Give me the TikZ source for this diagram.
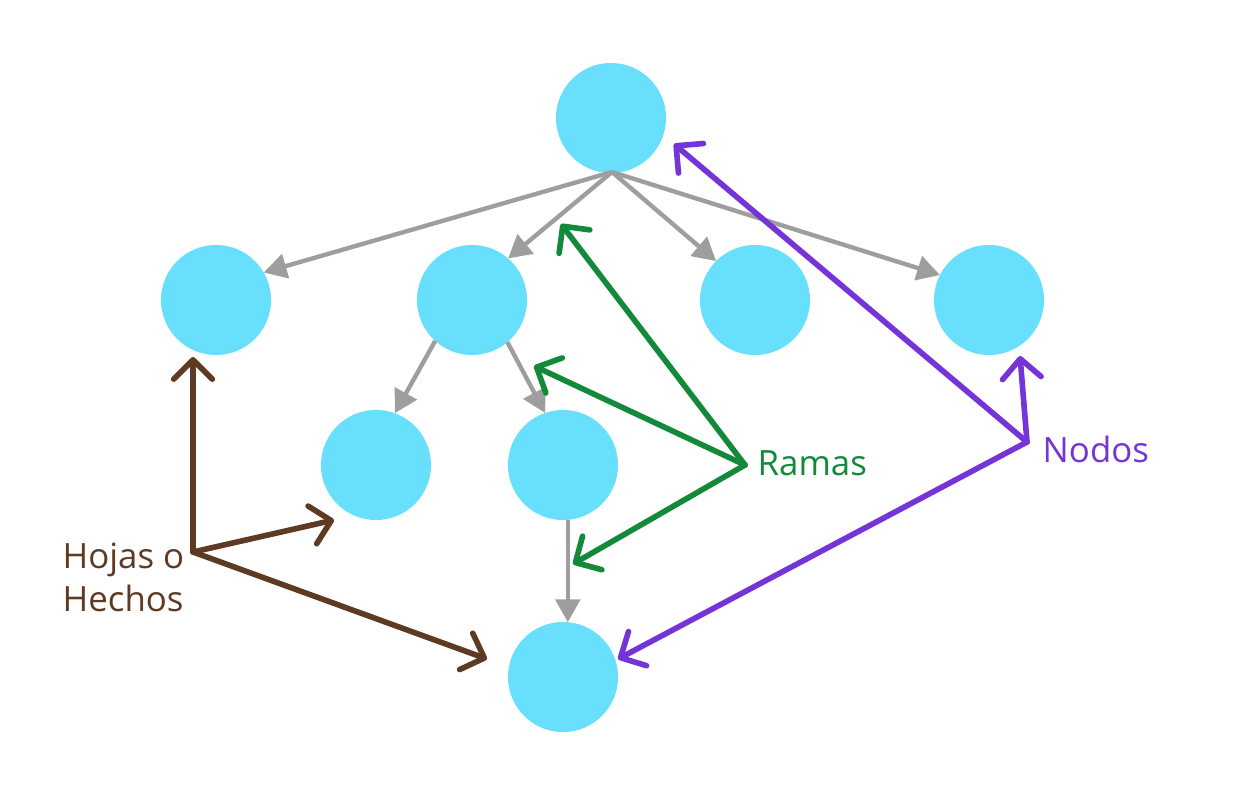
\documentclass[tikz,border=0pt]{standalone}
\usepackage{fontspec}
\setmainfont{Open Sans}
\usetikzlibrary{arrows.meta}
\definecolor{nodecyan}{HTML}{68DFFC}
\definecolor{edgegray}{HTML}{9E9E9E}
\definecolor{brownc}{HTML}{5E3A22}
\definecolor{greenc}{HTML}{138A3A}
\definecolor{purplec}{HTML}{7434D8}
\tikzset{
  treenode/.style={circle,fill=nodecyan,minimum size=1.1cm,inner sep=0pt,outer sep=0pt},
  edge/.style={draw=edgegray,line width=1.25pt,-{Triangle[length=6.5pt,width=7pt]}},
  note/.style={line width=1.6pt,line cap=round,line join=round,-{Straight Barb[length=5.5pt,width=11pt,line cap=round,line join=round]}},
  label/.style={anchor=base west,font=\fontsize{9.9pt}{12pt}\selectfont,inner sep=0pt}
}
\begin{document}
\begin{tikzpicture}[x=0.01cm,y=-0.01cm]
\useasboundingbox (0,0) rectangle (1237,785);
% nodes
\node[treenode] (A) at (611,118) {};
\node[treenode] (L) at (216,300) {};
\node[treenode] (B) at (472,300) {};
\node[treenode] (C) at (755,300) {};
\node[treenode] (D) at (989,300) {};
\node[treenode] (E) at (376,465) {};
\node[treenode] (F) at (563,465) {};
\node[treenode] (G) at (563,677) {};
% gray edges
\coordinate (a0) at (612,172);
\draw[edge] (a0) -- (L.30);
\draw[edge] (a0) -- (B.49);
\draw[edge] (a0) -- (C.135);
\draw[edge] (a0) -- (D.153);
\draw[edge] (B.228) -- (E.70);
\draw[edge] (B.310) -- (F.109);
\draw[edge] (F.275) -- (G.85);
% brown
\coordinate (h) at (193,552);
\coordinate (h1) at (193,357);
\coordinate (h2) at (334,520);
\coordinate (h3) at (487,659);
\draw[note,brownc] (h) -- (h1);
\draw[note,brownc] (h) -- (h2);
\draw[note,brownc] (h) -- (h3);
\node[label,text=brownc] (hl1) at (62,568) {Hojas o};
\node[label,text=brownc] (hl2) at (62,611) {Hechos};
% green
\coordinate (r) at (745,465);
\coordinate (r1) at (561,224);
\coordinate (r2) at (534,366);
\coordinate (r3) at (573,564);
\draw[note,greenc] (r) -- (r1);
\draw[note,greenc] (r) -- (r2);
\draw[note,greenc] (r) -- (r3);
\node[label,text=greenc] (rl) at (757,475) {Ramas};
% purple
\coordinate (n) at (1027,442);
\coordinate (n1) at (674,144);
\coordinate (n2) at (1020,356);
\coordinate (n3) at (618,659);
\draw[note,purplec] (n) -- (n1);
\draw[note,purplec] (n) -- (n2);
\draw[note,purplec] (n) -- (n3);
\node[label,text=purplec] (nl) at (1042,462) {Nodos};
\end{tikzpicture}
\end{document}
